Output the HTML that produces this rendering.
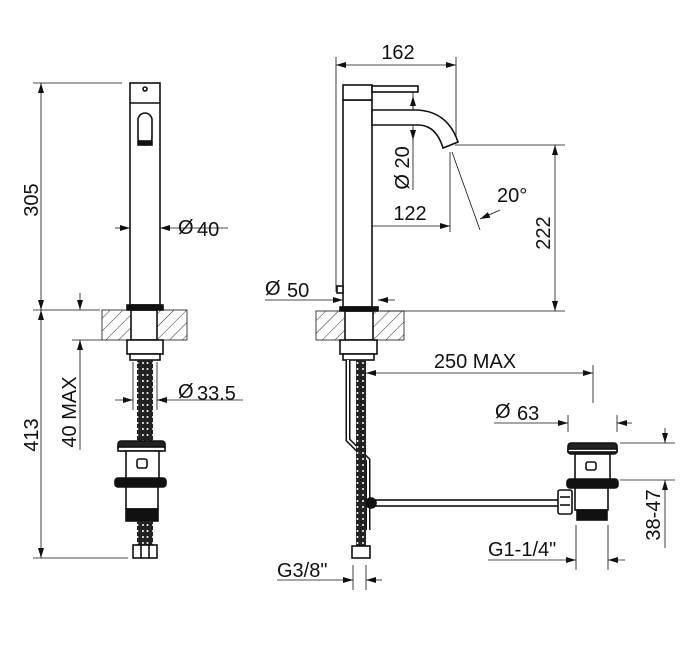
<!DOCTYPE html>
<html><head><style>
html,body{margin:0;padding:0;background:#fff;}
svg{display:block;}
text{font-family:"Liberation Sans",Arial,sans-serif;font-size:20px;fill:#111;}
</style></head><body>
<svg width="685" height="666" viewBox="0 0 685 666" xmlns="http://www.w3.org/2000/svg">
<defs>
<pattern id="h" width="9" height="9" patternUnits="userSpaceOnUse" patternTransform="rotate(45)">
<line x1="0" y1="0" x2="0" y2="9" stroke="#333" stroke-width="1"/></pattern>
<marker id="a" viewBox="0 0 10 6" refX="10" refY="3" markerWidth="11" markerHeight="6" orient="auto-start-reverse" markerUnits="userSpaceOnUse"><path d="M0,0L10,3L0,6z" fill="#111"/></marker>
<pattern id="hose" width="10" height="6" patternUnits="userSpaceOnUse"><rect width="10" height="6" fill="#222"/><circle cx="3" cy="3" r="1" fill="#fff"/><circle cx="7.5" cy="3" r="1" fill="#fff"/></pattern>
</defs>
<g stroke="#111" stroke-width="0.8" fill="none">
<line x1="33" y1="83" x2="122" y2="83"/>
<line x1="33" y1="310" x2="100" y2="310"/>
<line x1="33" y1="558" x2="128" y2="558"/>
<line x1="41" y1="83" x2="41" y2="310" marker-start="url(#a)" marker-end="url(#a)"/>
<line x1="41" y1="310" x2="41" y2="558" marker-start="url(#a)" marker-end="url(#a)"/>
<line x1="72" y1="340" x2="102" y2="340"/>
<line x1="80" y1="293" x2="80" y2="310" marker-end="url(#a)"/>
<line x1="80" y1="450" x2="80" y2="340" marker-end="url(#a)"/>
<line x1="115" y1="228" x2="130" y2="228" marker-end="url(#a)"/>
<line x1="228" y1="228" x2="160" y2="228" marker-end="url(#a)"/>
<line x1="115" y1="400" x2="133" y2="400" marker-end="url(#a)"/>
<line x1="243" y1="400" x2="157" y2="400" marker-end="url(#a)"/>
<line x1="133" y1="362" x2="133" y2="410"/><line x1="157" y1="362" x2="157" y2="410"/>
</g>
<g stroke="#111" stroke-width="1.6" fill="#fff">
<rect x="130" y="83" width="30" height="222"/>
<line x1="130" y1="103" x2="160" y2="103"/>
<circle cx="145" cy="89" r="2"/>
<rect x="138" y="113" width="14" height="32" rx="7"/>
<rect x="138" y="141" width="14" height="4" fill="#111"/>
<rect x="102" y="310" width="85" height="30" fill="url(#h)" stroke-width="0.8"/>
<rect x="131" y="310" width="26" height="30"/>
<rect x="127" y="305" width="36" height="5" fill="#111"/>
<rect x="127" y="340" width="36" height="14"/>
<rect x="130" y="354" width="30" height="6"/>
<rect x="137" y="360" width="16" height="82" fill="url(#hose)" stroke="none"/>
<rect x="118" y="441" width="47" height="10" rx="3" fill="#222"/>
<rect x="118" y="447" width="47" height="4" fill="#fff"/>
<rect x="126" y="451" width="33" height="28"/>
<rect x="137" y="459" width="10" height="9" rx="2"/>
<rect x="115" y="478" width="51" height="9" rx="3" fill="#111"/>
<rect x="126" y="487" width="32" height="22"/>
<rect x="126" y="509" width="32" height="12" fill="#111"/>
<rect x="137" y="521" width="16" height="24" fill="url(#hose)" stroke="none"/>
<rect x="133" y="545" width="24" height="13"/>
<line x1="141" y1="545" x2="141" y2="558"/><line x1="149" y1="545" x2="149" y2="558"/>
</g>
<text x="178" y="234">Ø</text><text x="197" y="236">40</text>
<text x="178" y="398">Ø</text><text x="197" y="400">33.5</text>
<text transform="translate(38,200) rotate(-90)" text-anchor="middle">305</text>
<text transform="translate(38,435) rotate(-90)" text-anchor="middle">413</text>
<text transform="translate(76,412) rotate(-90)" text-anchor="middle">40 MAX</text>

<g stroke="#111" stroke-width="0.8" fill="none">
<line x1="336" y1="57" x2="336" y2="292"/>
<line x1="456" y1="57" x2="456" y2="142"/>
<line x1="336" y1="65" x2="456" y2="65" marker-start="url(#a)" marker-end="url(#a)"/>
<line x1="413" y1="92" x2="413" y2="190"/>
<line x1="413" y1="112" x2="413" y2="96" marker-end="url(#a)"/>
<line x1="413" y1="128" x2="413" y2="140" marker-end="url(#a)"/>
<line x1="450" y1="152" x2="450" y2="232"/>
<line x1="358" y1="226" x2="450" y2="226" marker-end="url(#a)"/>
<line x1="452" y1="152" x2="480" y2="230"/>
<line x1="500" y1="210" x2="480" y2="219" marker-end="url(#a)"/>
<line x1="455" y1="145" x2="565" y2="145"/>
<line x1="380" y1="311" x2="565" y2="311"/>
<line x1="555" y1="145" x2="555" y2="311" marker-start="url(#a)" marker-end="url(#a)"/>
<line x1="265" y1="300" x2="343" y2="300" marker-end="url(#a)"/>
<line x1="395" y1="300" x2="378" y2="300" marker-end="url(#a)"/>
<line x1="593" y1="365" x2="593" y2="403"/>
<line x1="366" y1="373" x2="593" y2="373" marker-start="url(#a)" marker-end="url(#a)"/>
<line x1="568" y1="415" x2="568" y2="432"/><line x1="617" y1="415" x2="617" y2="432"/>
<line x1="494" y1="423" x2="568" y2="423" marker-end="url(#a)"/>
<line x1="632" y1="423" x2="617" y2="423" marker-end="url(#a)"/>
<line x1="620" y1="443" x2="675" y2="443"/><line x1="620" y1="480" x2="675" y2="480"/>
<line x1="665" y1="428" x2="665" y2="443" marker-end="url(#a)"/>
<line x1="665" y1="548" x2="665" y2="480" marker-end="url(#a)"/>
<line x1="576" y1="525" x2="576" y2="570"/><line x1="608" y1="525" x2="608" y2="570"/>
<line x1="488" y1="560" x2="576" y2="560" marker-end="url(#a)"/>
<line x1="625" y1="560" x2="608" y2="560" marker-end="url(#a)"/>
<line x1="353" y1="565" x2="353" y2="590"/><line x1="366" y1="565" x2="366" y2="590"/>
<line x1="277" y1="580" x2="353" y2="580" marker-end="url(#a)"/>
<line x1="382" y1="580" x2="366" y2="580" marker-end="url(#a)"/>
</g>
<g stroke="#111" stroke-width="1.6" fill="#fff">
<rect x="343" y="100" width="29" height="207"/>
<rect x="343" y="85" width="29" height="15"/>
<rect x="372" y="86" width="46" height="6"/>
<path d="M372,110 L418,110 Q448,112 458,142 L443,148 Q436,125 418,125 L372,125 Z"/>
<rect x="337" y="286" width="6" height="7" fill="#fff"/>
<rect x="316" y="311" width="88" height="29" fill="url(#h)" stroke-width="0.8"/>
<rect x="345" y="311" width="28" height="29"/>
<rect x="340" y="307" width="38" height="4" fill="#111"/>
<rect x="340" y="340" width="37" height="14"/>
<rect x="343" y="354" width="31" height="6"/>
<path d="M348,360 L348,440 L368,460 L368,530" stroke="#111" stroke-width="5" fill="none"/>
<path d="M348,360 L348,440 L368,460 L368,530" stroke="#fff" stroke-width="2" fill="none"/>
<rect x="356" y="360" width="10" height="188" fill="url(#hose)" stroke="none"/>
<rect x="372" y="500" width="188" height="6"/>
<circle cx="371" cy="503" r="5" fill="#111"/>
<rect x="352" y="546" width="18" height="12"/>
<rect x="568" y="443" width="49" height="11" rx="3" fill="#222"/>
<rect x="568" y="449" width="49" height="3" fill="#fff"/>
<rect x="575" y="454" width="35" height="26"/>
<rect x="586" y="462" width="10" height="8" rx="2"/>
<rect x="567" y="479" width="51" height="9" rx="3" fill="#111"/>
<rect x="575" y="488" width="33" height="22"/>
<rect x="577" y="510" width="30" height="10" fill="#111"/>
<rect x="558" y="490" width="14" height="24" rx="2"/>
<line x1="560" y1="497" x2="570" y2="497"/><line x1="560" y1="505" x2="570" y2="505"/>
</g>
<text x="398" y="59" text-anchor="middle">162</text>
<text transform="translate(409,168) rotate(-90)" text-anchor="middle">Ø 20</text>
<text x="410" y="220" text-anchor="middle">122</text>
<text x="497" y="202">20°</text>
<text transform="translate(550,233) rotate(-90)" text-anchor="middle">222</text>
<text x="265" y="295">Ø</text><text x="287" y="297">50</text>
<text x="475" y="368" text-anchor="middle">250 MAX</text>
<text x="495" y="418">Ø</text><text x="517" y="420">63</text>
<text transform="translate(660,515) rotate(-90)" text-anchor="middle">38-47</text>
<text x="488" y="556">G1-1/4"</text>
<text x="277" y="577">G3/8"</text>
</svg>
</body></html>
